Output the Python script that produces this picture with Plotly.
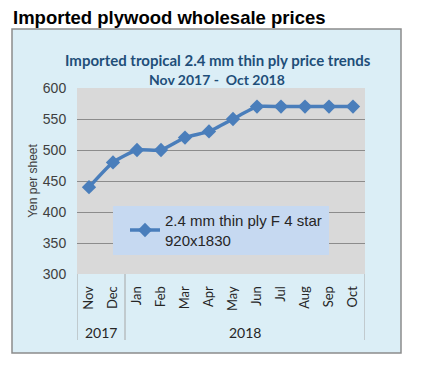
import plotly.graph_objects as go

years = ["2017", "2017", "2018", "2018", "2018", "2018", "2018", "2018", "2018", "2018", "2018", "2018"]
months = ["Nov", "Dec", "Jan", "Feb", "Mar", "Apr", "May", "Jun", "Jul", "Aug", "Sep", "Oct"]
prices = [440, 480, 500, 500, 520, 530, 550, 570, 570, 570, 570, 570]
y_ticks = [300, 350, 400, 450, 500, 550, 600]
series_name = "2.4 mm thin ply F 4 star<br>920x1830"

OFF = 8  # page body margin
W, H = 422, 368
L, R, T, B = 77 - OFF, 365 - OFF, 88 - OFF, 274 - OFF


def px(x):
    return (x - OFF - L) / (R - L)


def py(y):
    return (B - (y - OFF)) / (B - T)


fig = go.Figure()
fig.add_trace(go.Scatter(
    x=months, y=prices, name=series_name,
    mode="lines+markers",
    line=dict(color="#4a7ebb", width=3.5, shape="spline", smoothing=0.5),
    marker=dict(symbol="diamond", size=11, color="#4a7ebb"),
))

# year groups: labels and dividers from the data
groups = []
for i, yr in enumerate(years):
    if not groups or groups[-1][0] != yr:
        groups.append([yr, i, i])
    else:
        groups[-1][2] = i

shapes = [
    dict(type="rect", xref="paper", yref="paper", x0=px(12), x1=px(401), y0=py(353), y1=py(29),
         fillcolor="#dbeef6", line=dict(color="#8c8c8c", width=1.5), layer="below"),
    dict(type="rect", xref="paper", yref="paper", x0=0, x1=1, y0=0, y1=1,
         fillcolor="#d9d9d9", line=dict(width=0), layer="below"),
    dict(type="rect", xref="paper", yref="paper", x0=px(113), x1=px(329), y0=py(255), y1=py(206),
         fillcolor="#c6d9f1", line=dict(width=0), layer="above"),
]
annotations = [
    dict(text="<b>Imported plywood wholesale prices</b>", xref="paper", yref="paper",
         x=px(11), y=py(17.5), xanchor="left", yanchor="middle", showarrow=False,
         font=dict(family="Liberation Sans, Arial", size=18.5, color="black")),
    dict(text="<b>Imported tropical 2.4 mm thin ply price trends</b>", xref="paper", yref="paper",
         x=px(218), y=py(60), xanchor="center", yanchor="middle", showarrow=False,
         font=dict(family="Lato, Carlito, sans-serif", size=15, color="#1f4e79")),
    dict(text="<b>Nov 2017 -  Oct 2018</b>", xref="paper", yref="paper",
         x=px(217), y=py(79), xanchor="center", yanchor="middle", showarrow=False,
         font=dict(family="Lato, Carlito, sans-serif", size=14, color="#1f4e79")),
]
for k, (yr, i0, i1) in enumerate(groups):
    annotations.append(dict(text=yr, xref="x", yref="paper", x=(i0 + i1) / 2, y=py(332),
                            xanchor="center", yanchor="middle", showarrow=False,
                            font=dict(family="Lato, Carlito, sans-serif", size=14, color="#262626")))
    if k == 0:
        shapes.append(dict(type="line", xref="x", yref="paper", x0=i0 - 0.5, x1=i0 - 0.5,
                           y0=py(340), y1=0, line=dict(color="#a6a6a6", width=1)))
    shapes.append(dict(type="line", xref="x", yref="paper", x0=i1 + 0.5, x1=i1 + 0.5,
                       y0=py(340), y1=0, line=dict(color="#a6a6a6", width=1)))

fig.update_layout(
    width=W, height=H,
    margin=dict(l=L, r=W - R, t=T, b=H - B, autoexpand=False),
    paper_bgcolor="white",
    plot_bgcolor="#d9d9d9",
    showlegend=True,
    legend=dict(x=px(125), y=py(204), xanchor="left", yanchor="top",
                bgcolor="rgba(0,0,0,0)", font=dict(family="Liberation Sans, Arial", size=15, color="#262626"),
                tracegroupgap=0),
    xaxis=dict(type="category", tickangle=-90, range=[-0.5, len(months) - 0.5],
               tickfont=dict(family="Lato, Carlito, sans-serif", size=13, color="#262626"),
               showgrid=False, ticks="outside", ticklen=6, tickcolor="rgba(0,0,0,0)", showline=False),
    yaxis=dict(range=[300, 600], tickvals=y_ticks, showgrid=True, gridcolor="#8c8c8c", gridwidth=1,
               zeroline=False, ticks="outside", ticklen=7, tickcolor="rgba(0,0,0,0)",
               tickfont=dict(family="Liberation Sans, Arial", size=14, color="#404040"),
               title=dict(text="Yen per sheet", font=dict(family="Liberation Sans, Arial", size=12, color="#404040"),
                          standoff=2)),
    shapes=shapes,
    annotations=annotations,
)

fig.write_html("out.html")
